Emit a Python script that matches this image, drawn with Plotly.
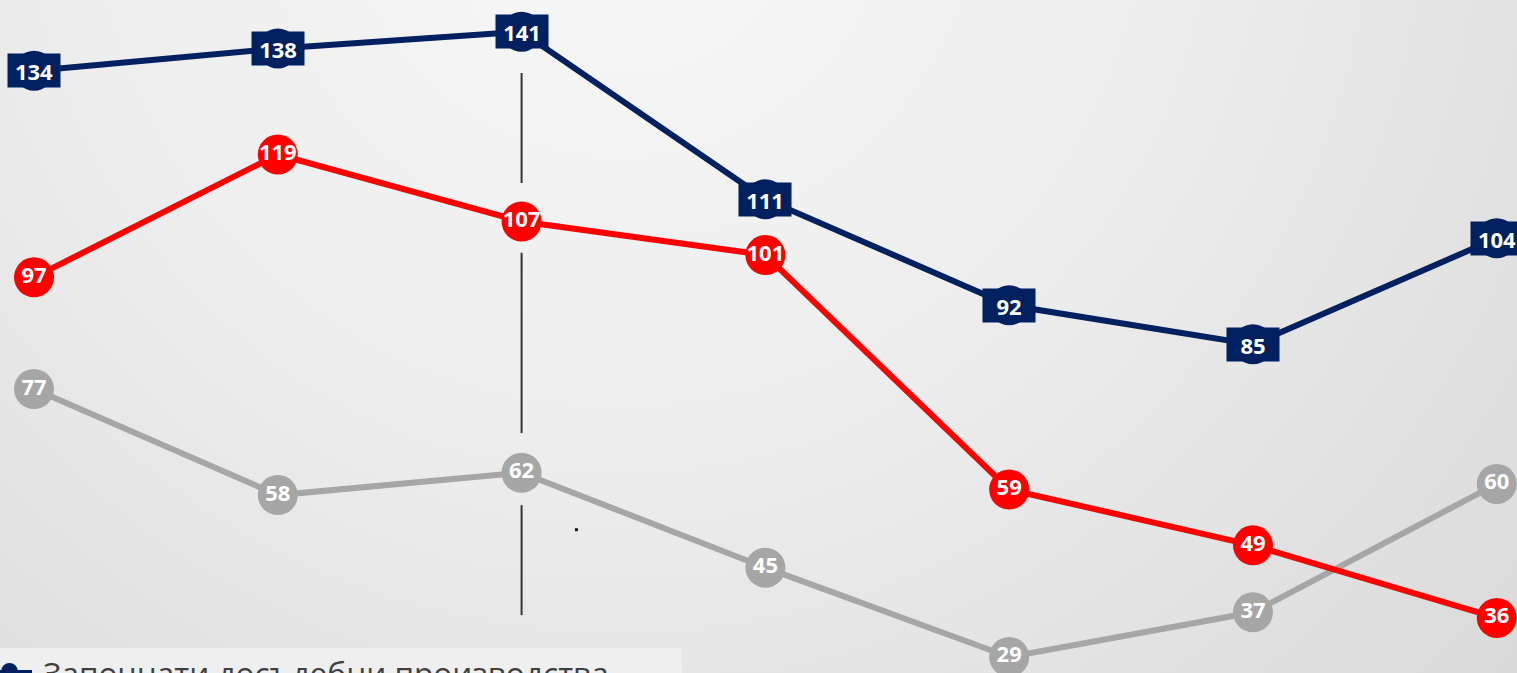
import base64
import plotly.graph_objects as go

# ---- data ----
positions = [0, 1, 2, 3, 4, 5, 6]
blue_vals = [134, 138, 141, 111, 92, 85, 104]
red_vals = [97, 119, 107, 101, 59, 49, 36]
gray_vals = [77, 58, 62, 45, 29, 37, 60]
legend_label = "Започнати досъдебни производства"
divider_pos = 2
divider_segments = [(133.6, 113.9), (101.4, 69.1), (56.2, 36.5)]
stray_mark = (2.225, 51.8)

NAVY = "#002060"
RED = "#ff0000"
GRAY = "#a6a6a6"
LABEL_FONT = dict(family="Open Sans", size=22, color="white", weight="bold")

W, H = 1517, 673


def px(x):
    return x / W


def py(y):
    return 1 - y / H


# background gradient as an svg image
svg = f"""<svg xmlns='http://www.w3.org/2000/svg' width='{W}' height='{H}' viewBox='0 0 {W} {H}' preserveAspectRatio='none'>
<defs><radialGradient id='g' gradientUnits='userSpaceOnUse' cx='620' cy='-120' r='1250'>
<stop offset='0' stop-color='#f8f8f8'/><stop offset='0.45' stop-color='#ededed'/><stop offset='1' stop-color='#d8d8d8'/>
</radialGradient></defs><rect width='{W}' height='{H}' fill='url(#g)'/></svg>"""
bg_src = "data:image/svg+xml;base64," + base64.b64encode(svg.encode()).decode()

fig = go.Figure()

# divider line
dx, dy = [], []
for a, b in divider_segments:
    dx += [divider_pos, divider_pos, None]
    dy += [a, b, None]
fig.add_trace(go.Scatter(x=dx, y=dy, mode="lines", line=dict(color="#333333", width=2),
                         showlegend=False, hoverinfo="skip"))
fig.add_trace(go.Scatter(x=[stray_mark[0]], y=[stray_mark[1]], mode="markers",
                         marker=dict(symbol="square", size=3, color="#111111"),
                         showlegend=False, hoverinfo="skip"))

fig.add_trace(go.Scatter(x=positions, y=gray_vals, mode="lines+markers+text",
                         text=[str(v) for v in gray_vals], textposition="middle center",
                         textfont=LABEL_FONT, line=dict(color=GRAY, width=6),
                         marker=dict(size=40, color=GRAY), showlegend=False, name="gray"))
fig.add_trace(go.Scatter(x=positions, y=red_vals, mode="lines+markers+text",
                         text=[str(v) for v in red_vals], textposition="middle center",
                         textfont=LABEL_FONT, line=dict(color=RED, width=6),
                         marker=dict(size=40, color=RED), showlegend=False, name="red"))
fig.add_trace(go.Scatter(x=positions, y=blue_vals, mode="lines+markers",
                         line=dict(color=NAVY, width=6),
                         marker=dict(size=40, color=NAVY), name=legend_label,
                         showlegend=False))

for x, v in zip(positions, blue_vals):
    fig.add_annotation(x=x, y=v, xref="x", yref="y", text=str(v), showarrow=False,
                       bgcolor=NAVY, font=LABEL_FONT, width=52, height=33,
                       borderpad=0)

# legend (drawn by hand, partly cut off by the bottom edge as in the reference)
fig.add_annotation(x=px(42), y=py(650), xref="paper", yref="paper", xanchor="left",
                   yanchor="top", text=legend_label, showarrow=False, borderpad=0,
                   font=dict(family="Open Sans", size=31.6, color="#404040"))

shapes = [
    dict(type="rect", xref="paper", yref="paper", x0=0, x1=px(682),
         y0=py(700), y1=py(648), fillcolor="#efefef", line=dict(width=0), layer="below"),
    dict(type="line", xref="paper", yref="paper", x0=0, x1=px(32),
         y0=py(672), y1=py(672), line=dict(color=NAVY, width=4)),
    dict(type="circle", xref="paper", yref="paper", x0=px(1), x1=px(18),
         y0=py(680), y1=py(663), fillcolor=NAVY, line=dict(width=0)),
]

fig.update_layout(
    width=W, height=H,
    margin=dict(l=0, r=0, t=0, b=0),
    paper_bgcolor="#e6e6e6",
    plot_bgcolor="rgba(0,0,0,0)",
    xaxis=dict(range=[-0.1395, 6.083], visible=False),
    yaxis=dict(range=[26.13, 146.68], visible=False),
    images=[dict(source=bg_src, xref="paper", yref="paper", x=0, y=1,
                 sizex=1, sizey=1, sizing="stretch", layer="below")],
    shapes=shapes,
    showlegend=False,
)

fig.write_html("out.html", config={"displayModeBar": False},
               post_script="document.body.style.margin='0';")
